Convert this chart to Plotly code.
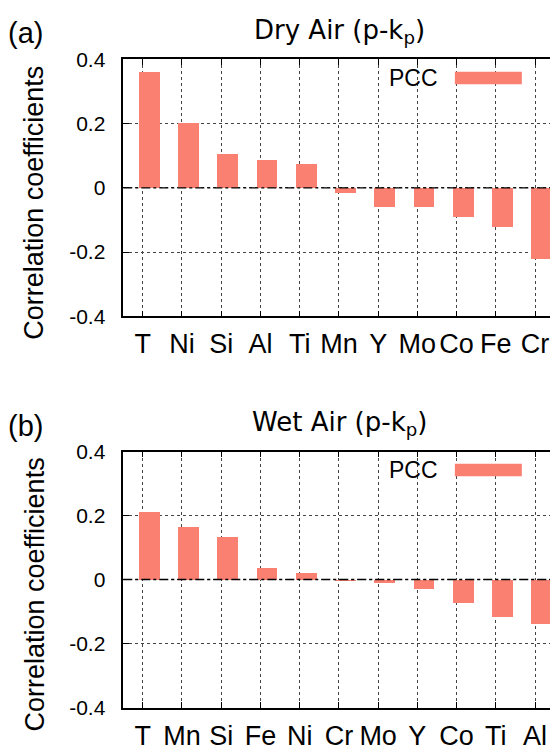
import plotly.graph_objects as go

# ---- data ----
dry_labels = ["T", "Ni", "Si", "Al", "Ti", "Mn", "Y", "Mo", "Co", "Fe", "Cr"]
dry_values = [0.360, 0.200, 0.105, 0.087, 0.074, -0.017, -0.060, -0.062, -0.093, -0.124, -0.223]
wet_labels = ["T", "Mn", "Si", "Fe", "Ni", "Cr", "Mo", "Y", "Co", "Ti", "Al"]
wet_values = [0.213, 0.166, 0.133, 0.037, 0.022, -0.003, -0.009, -0.028, -0.072, -0.117, -0.139]
ytick_vals = [-0.4, -0.2, 0, 0.2, 0.4]
ytick_text = ["-0.4", "-0.2", "0", "0.2", "0.4"]

BAR = "#FA8072"
FONT = "Liberation Sans, Arial, Helvetica, sans-serif"
TFONT = "DejaVu Sans, sans-serif"
W, H = 550, 750

fig = go.Figure()

x_left_px = 123.3
panels = [
    dict(labels=dry_labels, values=dry_values, top=59.3, bot=316.3,
         title="Dry Air (p-k<sub>p</sub>)", tag="(a)", xa="x", ya="y"),
    dict(labels=wet_labels, values=wet_values, top=451.5, bot=707.5,
         title="Wet Air (p-k<sub>p</sub>)", tag="(b)", xa="x2", ya="y2"),
]

xr = [-0.494, 10.38]

for i, p in enumerate(panels):
    idx = list(range(len(p["labels"])))
    fig.add_trace(go.Bar(
        x=idx, y=p["values"], base=0, width=0.53, offset=-0.087,
        marker=dict(color=BAR, line=dict(width=0)),
        xaxis=p["xa"], yaxis=p["ya"], showlegend=False,
    ))
    sfx = "" if i == 0 else "2"
    ydom = [1 - p["bot"] / H, 1 - p["top"] / H]
    fig.update_layout(**{
        "xaxis" + sfx: dict(
            domain=[x_left_px / W, 1], range=xr, anchor="y" + sfx, automargin=False,
            tickmode="array", tickvals=idx, ticktext=p["labels"],
            ticks="inside", ticklen=6, tickcolor="black", tickwidth=1,
            showline=True, linecolor="black", linewidth=1.5, mirror="ticks",
            showgrid=True, gridcolor="#444", griddash="dot", gridwidth=1,
            zeroline=False, tickfont=dict(size=27, color="black", family=FONT),
            ticklabelstandoff=3,
        ),
        "yaxis" + sfx: dict(
            domain=ydom, range=[-0.4, 0.4], anchor="x" + sfx, automargin=False,
            tickmode="array", tickvals=ytick_vals, ticktext=ytick_text,
            ticks="inside", ticklen=6, tickcolor="black",
            showline=True, linecolor="black", linewidth=1.5, mirror=False,
            showgrid=True, gridcolor="#444", griddash="dot", gridwidth=1,
            zeroline=False, tickfont=dict(size=21, color="black", family=FONT),
            ticklabelstandoff=12,
        ),
    })
    top = p["top"]
    # zero reference line (dash-dot)
    fig.add_shape(type="line", xref=p["xa"] + " domain", yref=p["ya"],
                  x0=0, x1=1, y0=0, y1=0, layer="above",
                  line=dict(color="black", width=1.3, dash="dashdot"))
    # legend swatch + label
    fig.add_shape(type="rect", xref=p["xa"] + " domain", yref=p["ya"] + " domain",
                  x0=0.777, x1=0.934, y0=0.903, y1=0.952,
                  fillcolor=BAR, line=dict(width=0), layer="above")
    fig.add_annotation(text="PCC", xref=p["xa"] + " domain", yref=p["ya"] + " domain",
                       x=0.742, y=0.926, xanchor="right", yanchor="middle", showarrow=False,
                       font=dict(size=23, color="black", family=FONT))
    # title
    fig.add_annotation(text=p["title"], xref="paper", yref="paper",
                       x=339 / W, y=1 - (top - 28) / H, xanchor="center", yanchor="middle",
                       showarrow=False, font=dict(size=26, color="black", family=TFONT))
    fig.add_annotation(text=p["tag"], xref="paper", yref="paper",
                       x=6 / W, y=1 - (top - 26) / H, xanchor="left", yanchor="middle",
                       showarrow=False, font=dict(size=29, color="black", family=FONT))
    # y axis title
    fig.add_annotation(text="Correlation coefficients", xref="paper", yref="paper",
                       x=34 / W, y=1 - ((p["top"] + p["bot"]) / 2 + 15) / H,
                       xanchor="center", yanchor="middle", textangle=-90,
                       showarrow=False, font=dict(size=27, color="black", family=FONT))

fig.update_layout(
    width=W, height=H, margin=dict(l=0, r=0, t=0, b=0, autoexpand=False),
    paper_bgcolor="white", plot_bgcolor="white", bargap=0,
    font=dict(family=FONT, color="black"),
)

fig.write_html("out.html")
